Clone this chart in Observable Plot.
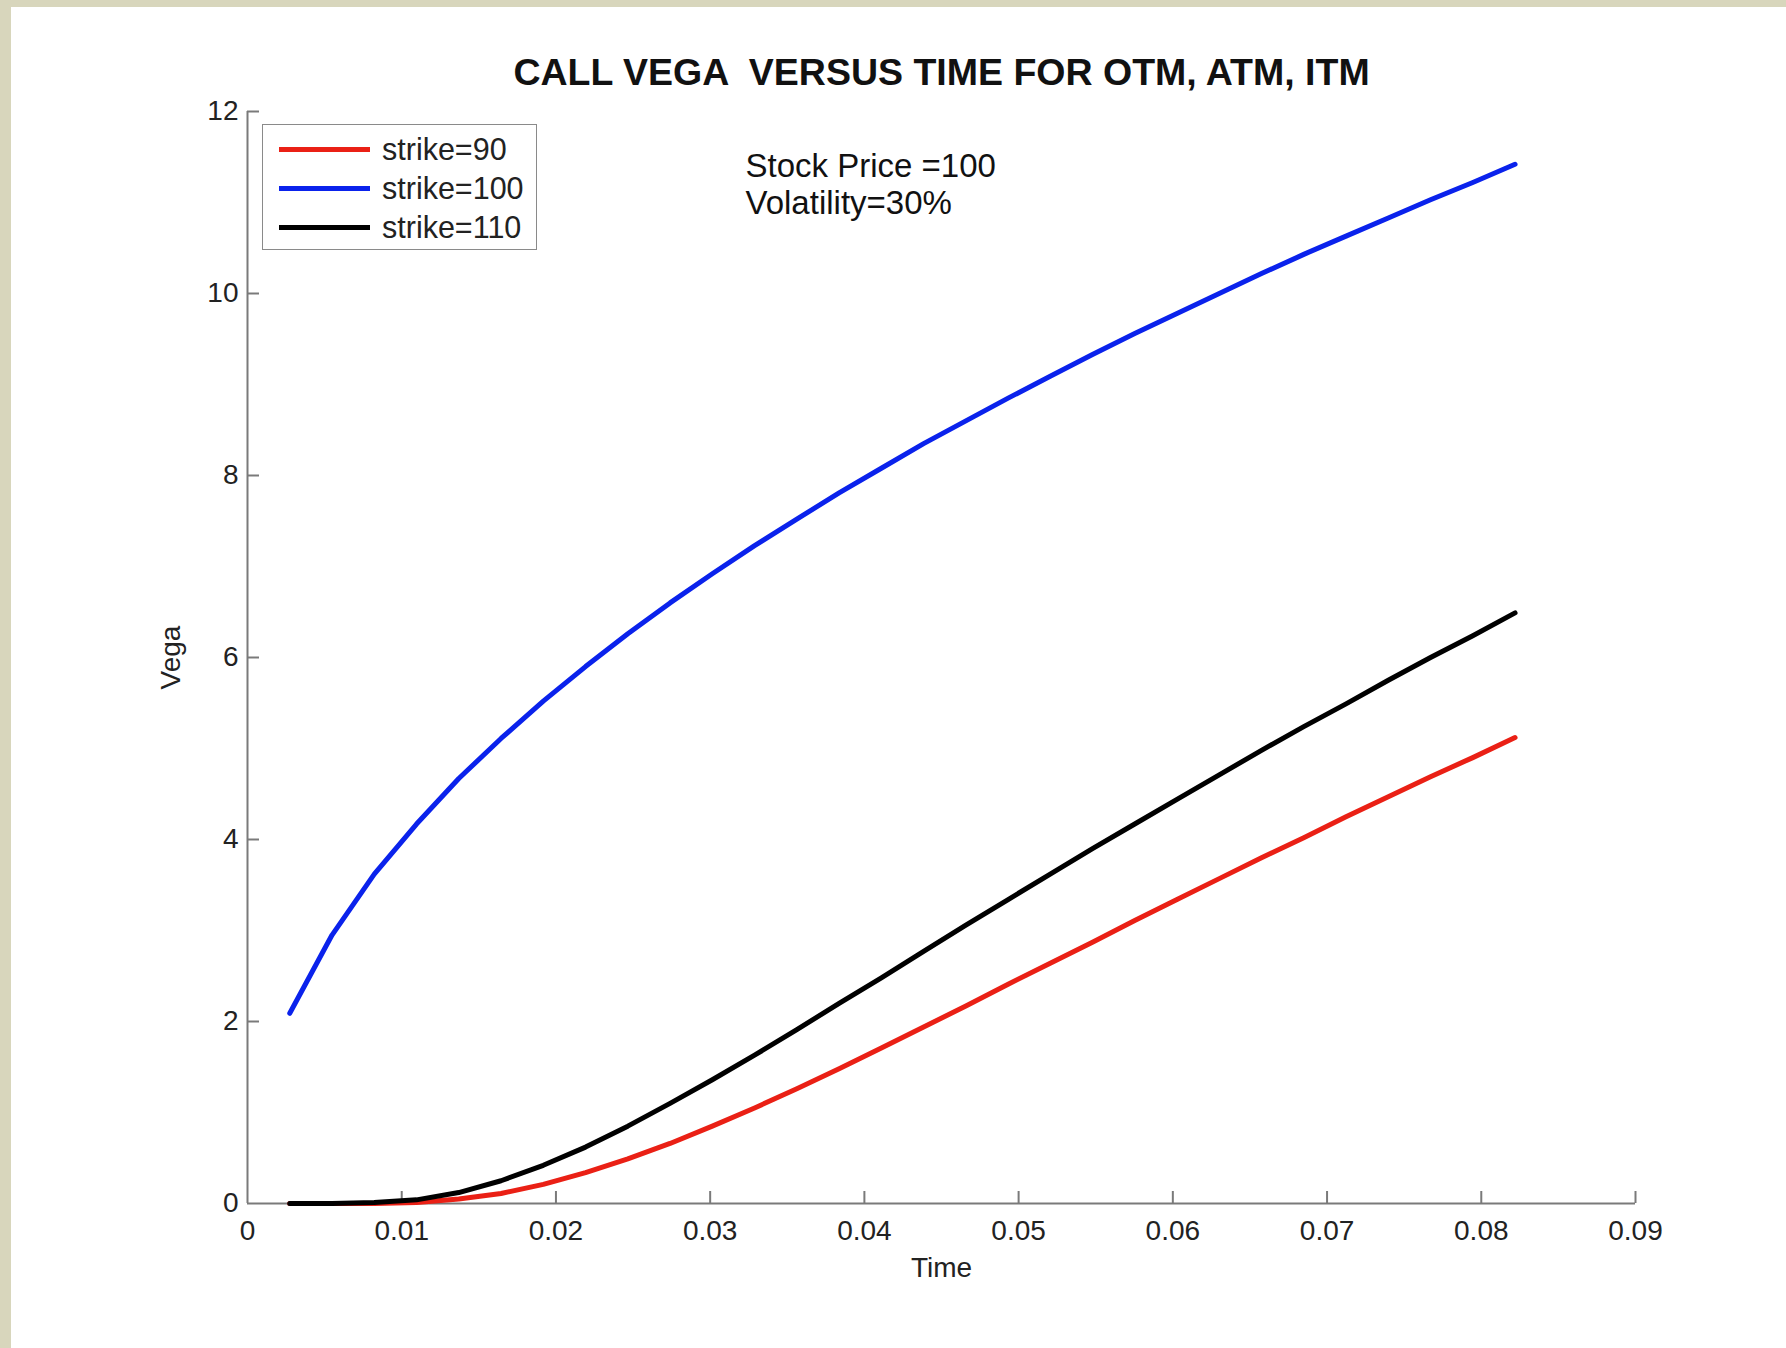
<!DOCTYPE html>
<html>
<head>
<meta charset="utf-8">
<script src="https://cdn.jsdelivr.net/npm/d3@7"></script>
<script src="https://cdn.jsdelivr.net/npm/@observablehq/plot@0.6"></script>
<style>
  html, body { margin: 0; padding: 0; background: #d8d6bc; }
  body { width: 1786px; height: 1348px; position: relative; overflow: hidden;
         font-family: "Liberation Sans", Arial, Helvetica, sans-serif; }
  #panel { position: absolute; left: 11px; top: 7px; width: 1775px; height: 1341px; background: #fff; }
  #panel svg { display: block; }
  #legend { position: absolute; left: 251px; top: 117px; width: 275px; height: 126px;
            border: 1.5px solid #8a8a8a; background: #fff; box-sizing: border-box; }
  .row { position: absolute; left: 0; width: 100%; height: 40px; }
  .sw { position: absolute; left: 16px; top: 17.5px; width: 91px; height: 5px; }
  .lb { position: absolute; left: 119px; top: 0; line-height: 40px; font-size: 30.5px; color: #222; white-space: pre; }
</style>
</head>
<body>
<div id="panel"></div>
<script>
// ---- data ----
const time = [0.00274,0.00548,0.00822,0.01096,0.01370,0.01644,0.01918,0.02192,0.02466,0.02740,
              0.03014,0.03288,0.03562,0.03836,0.04110,0.04384,0.04658,0.04932,0.05205,0.05479,
              0.05753,0.06027,0.06301,0.06575,0.06849,0.07123,0.07397,0.07671,0.07945,0.08219];
const vegaStrike90  = [0.00,0.00,0.00,0.01,0.05,0.11,0.21,0.34,0.49,0.66,
                       0.85,1.05,1.26,1.48,1.71,1.94,2.17,2.41,2.64,2.87,
                       3.11,3.34,3.57,3.80,4.02,4.25,4.47,4.69,4.90,5.12];
const vegaStrike100 = [2.09,2.95,3.62,4.17,4.67,5.11,5.52,5.90,6.26,6.60,
                       6.92,7.23,7.52,7.81,8.08,8.35,8.60,8.85,9.09,9.33,
                       9.56,9.78,10.00,10.22,10.43,10.63,10.83,11.03,11.22,11.42];
const vegaStrike110 = [0.00,0.00,0.01,0.04,0.12,0.25,0.42,0.62,0.85,1.10,
                       1.36,1.63,1.91,2.20,2.48,2.77,3.06,3.34,3.62,3.90,
                       4.17,4.44,4.71,4.98,5.24,5.49,5.75,6.00,6.24,6.49];
const seriesNames  = ["strike=90", "strike=100", "strike=110"];
const seriesColors = ["#ea2015", "#0a22ec", "#000000"];
const xTicks = [0, 0.01, 0.02, 0.03, 0.04, 0.05, 0.06, 0.07, 0.08, 0.09];
const xTickLabels = ["0","0.01","0.02","0.03","0.04","0.05","0.06","0.07","0.08","0.09"];
const yTicks = [0, 2, 4, 6, 8, 10, 12];
const yTickLabels = ["0","2","4","6","8","10","12"];
const titleText = "CALL VEGA  VERSUS TIME FOR OTM, ATM, ITM";
const noteText = "Stock Price =100\nVolatility=30%";
const xLabel = "Time";
const yLabel = "Vega";

// ---- table ----
const seriesValues = [vegaStrike90, vegaStrike100, vegaStrike110];
const rows = [];
seriesNames.forEach((name, s) => {
  time.forEach((t, i) => rows.push({series: name, time: t, vega: seriesValues[s][i]}));
});

// ---- layout ----
const W = 1775, H = 1341;
const mL = 236, mR = 151, mT = 104, mB = 145;
const plotW = W - mL - mR, plotH = H - mT - mB;
const FONT = '"Liberation Sans", Arial, Helvetica, sans-serif';
const axisColor = "#7a7a7a";
const textColor = "#222";
const tickLen = 12;

const chart = Plot.plot({
  width: W, height: H,
  marginLeft: mL, marginRight: mR, marginTop: mT, marginBottom: mB,
  x: {domain: [0, 0.09]},
  y: {domain: [0, 12]},
  color: {domain: seriesNames, range: seriesColors},
  style: {fontFamily: FONT, background: "white", whiteSpace: "pre", overflow: "visible"},
  marks: [
    Plot.ruleY([0], {stroke: axisColor, strokeWidth: 2}),
    Plot.ruleX([0], {stroke: axisColor, strokeWidth: 2}),
    Plot.tickX(xTicks.slice(1), {x: d => d, stroke: axisColor, strokeWidth: 2, insetTop: plotH - tickLen}),
    Plot.tickY(yTicks.slice(1), {y: d => d, stroke: axisColor, strokeWidth: 2, insetRight: plotW - tickLen}),
    Plot.axisX(xTicks, {tickSize: 0, tickPadding: 17, fontSize: 28, fill: textColor,
                        tickFormat: (d, i) => xTickLabels[i], label: null}),
    Plot.axisY(yTicks, {tickSize: 0, tickPadding: 9, fontSize: 28, fill: textColor,
                        tickFormat: (d, i) => yTickLabels[i], label: null}),
    Plot.line(rows, {x: "time", y: "vega", z: "series", stroke: "series", strokeWidth: 5}),
    Plot.text([titleText], {frameAnchor: "top", dy: -53, fontSize: 37.5, fontWeight: "bold", fill: "#111"}),
    Plot.text([noteText], {frameAnchor: "top-left", dx: 498, dy: 40, lineAnchor: "top",
                           textAnchor: "start", fontSize: 33, lineHeight: 1.1, fill: "#111"}),
    Plot.text([xLabel], {frameAnchor: "bottom", dy: 73, fontSize: 28, fill: textColor}),
    Plot.text([yLabel], {frameAnchor: "left", dx: -76, rotate: -90, textAnchor: "middle", fontSize: 28, fill: textColor})
  ]
});
const panel = document.getElementById("panel");
panel.appendChild(chart);

// ---- legend ----
const legend = document.createElement("div");
legend.id = "legend";
seriesNames.forEach((name, i) => {
  const row = document.createElement("div");
  row.className = "row";
  row.style.top = (4 + 39 * i) + "px";
  const sw = document.createElement("span");
  sw.className = "sw";
  sw.style.background = seriesColors[i];
  const lb = document.createElement("span");
  lb.className = "lb";
  lb.textContent = name;
  row.appendChild(sw); row.appendChild(lb);
  legend.appendChild(row);
});
panel.appendChild(legend);
</script>
</body>
</html>
